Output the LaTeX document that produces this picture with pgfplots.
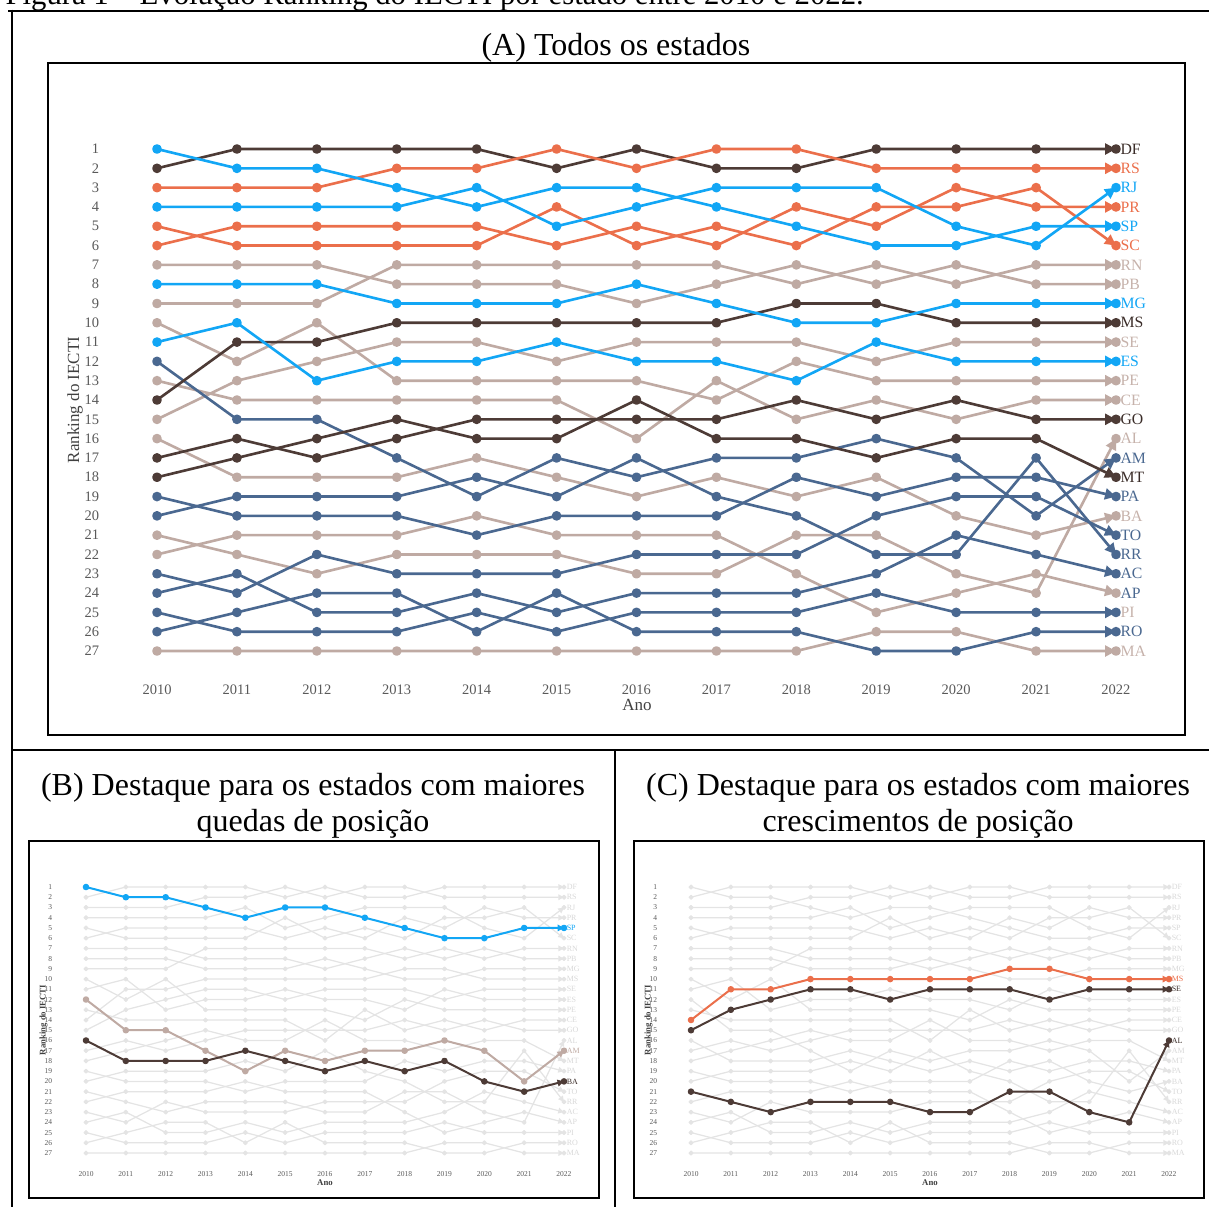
\documentclass[border=0pt]{standalone}
\usepackage{fontspec}
\setmainfont{Liberation Serif}
\usepackage{pgfplots}
\usepackage{pgfplotstable}
\pgfplotsset{compat=1.18}
\usetikzlibrary{arrows.meta}

\definecolor{dk}{HTML}{4D3B36}
\definecolor{orr}{HTML}{EB6F4B}
\definecolor{bl}{HTML}{12A6F5}
\definecolor{tp}{HTML}{BFAAA3}
\definecolor{tpl}{HTML}{C6B2AB}
\definecolor{sl}{HTML}{4A6890}
\definecolor{gl}{HTML}{E4E4E4}
\definecolor{gt}{HTML}{D8D8D8}
\definecolor{tk}{HTML}{595959}
\definecolor{lb}{HTML}{404040}
\definecolor{lbl}{HTML}{3A2C28}

\pgfplotstableread{
year DF RS RJ PR SP SC RN PB MG MS SE ES PE CE GO AL AM MT PA BA TO RR AC PI AP RO MA
2010 2 3 4 6 1 5 9 7 8 14 15 11 10 13 17 21 12 18 19 16 23 20 24 22 25 26 27
2011 1 3 4 5 2 6 9 7 8 11 13 10 12 14 16 22 15 17 20 18 24 19 23 21 26 25 27
2012 1 3 4 5 2 6 9 7 8 11 12 13 10 14 17 23 15 16 20 18 22 19 25 21 26 24 27
2013 1 2 4 5 3 6 7 8 9 10 11 12 13 14 16 22 17 15 20 18 23 19 25 21 26 24 27
2014 1 2 3 5 4 6 7 8 9 10 11 12 13 14 15 22 19 16 21 17 23 18 24 20 25 26 27
2015 2 1 5 6 3 4 7 8 9 10 12 11 13 14 15 22 17 16 20 18 23 19 25 21 26 24 27
2016 1 2 4 5 3 6 7 9 8 10 11 12 13 16 15 23 18 14 20 19 22 17 24 21 25 26 27
2017 2 1 3 6 4 5 7 8 9 10 11 12 14 13 15 23 17 16 20 18 22 19 24 21 25 26 27
2018 2 1 3 4 5 6 8 7 10 9 11 13 12 15 14 21 17 16 18 19 22 20 24 23 25 26 27
2019 1 2 3 5 6 4 7 8 10 9 12 11 13 14 15 21 16 17 19 18 20 22 23 25 24 27 26
2020 1 2 5 3 6 4 8 7 9 10 11 12 13 15 14 23 17 16 18 20 19 22 21 24 25 27 26
2021 1 2 6 4 5 3 7 8 9 10 11 12 13 14 15 24 20 16 18 21 19 17 22 23 25 26 27
2022 1 2 3 4 5 6 7 8 9 10 11 12 13 14 15 16 17 18 19 20 21 22 23 24 25 26 27
}\ranks

\pgfplotsset{
  rk/.style={scale only axis, anchor=south west,
    xmin=2010, xmax=2022, ymin=1, ymax=27, y dir=reverse,
    axis line style={draw=none}, major tick style={draw=none},
    xtick={2010,...,2022}, ytick={1,...,27}, clip=false,
    /pgf/number format/assume math mode=true,
    /pgf/number format/1000 sep={},
    tick label style={text=tk}},
  stA/.style={line width=1.05pt, mark=*, mark size=1.4pt, line join=round,
    -{Triangle[length=4.4pt,width=4.4pt]}},
  stG/.style={gl, line width=0.5pt, mark=*, mark size=0.75pt, line join=round,
    -{Triangle[length=2.3pt,width=2.3pt]}},
  stH/.style={line width=0.8pt, mark=*, mark size=0.9pt, line join=round,
    -{Triangle[length=2.6pt,width=2.6pt]}},
}
\newcommand{\serA}[2]{\addplot[stA,#1] table[x=year,y=#2]{\ranks};}
\newcommand{\serG}[1]{\addplot[stG] table[x=year,y=#1]{\ranks};}
\newcommand{\serH}[2]{\addplot[stH,#1] table[x=year,y=#2]{\ranks};}
\newcommand{\labA}[3]{\node[anchor=west,inner sep=0.6pt,xshift=1pt,text=#1,font=\fontsize{6.3}{7}\selectfont] at (axis cs:2022,#2) {#3};}
\newcommand{\labB}[3]{\node[anchor=west,inner sep=0.3pt,xshift=0.6pt,text=#1,font=\fontsize{3.2}{3.6}\selectfont] at (axis cs:2022,#2) {#3};}

\begin{document}
\begin{tikzpicture}
\useasboundingbox (0,0) rectangle (483.6pt,482.8pt);
% caption (cut at top as in the source)
\node[anchor=base west,inner sep=0,font=\fontsize{12.3}{14}\selectfont] at (2pt,481pt) {Figura 1 – Evolução Ranking do IECTI por estado entre 2010 e 2022.};
% table frame
\draw[line width=1.1pt] (3.2pt,478.4pt) -- (483.6pt,478.4pt);
\draw[line width=1.1pt] (4.8pt,478.9pt) -- (4.8pt,0pt);
\draw[line width=1.1pt] (4.8pt,182.8pt) -- (483.6pt,182.8pt);
\draw[line width=1.1pt] (246pt,182.8pt) -- (246pt,0pt);
% panel boxes
\draw[line width=1pt] (19.2pt,188.8pt) rectangle (474pt,457.6pt);
\draw[line width=1pt] (11.6pt,3.6pt) rectangle (239.6pt,146.4pt);
\draw[line width=1pt] (253.6pt,3.6pt) rectangle (481.6pt,146.4pt);
% titles
\node[anchor=base,inner sep=0,font=\fontsize{12.8}{14}\selectfont] at (246.4pt,460.6pt) {(A) Todos os estados};
\node[anchor=base,inner sep=0,font=\fontsize{12.8}{14}\selectfont] at (125.2pt,164.8pt) {(B) Destaque para os estados com maiores};
\node[anchor=base,inner sep=0,font=\fontsize{12.8}{14}\selectfont] at (125.2pt,150.4pt) {quedas de posição};
\node[anchor=base,inner sep=0,font=\fontsize{12.8}{14}\selectfont] at (367.2pt,164.8pt) {(C) Destaque para os estados com maiores};
\node[anchor=base,inner sep=0,font=\fontsize{12.8}{14}\selectfont] at (367.2pt,150.4pt) {crescimentos de posição};
% axis titles
\node[rotate=90,text=lb,font=\fontsize{6.8}{8}\selectfont] at (30pt,322.8pt) {Ranking do IECTI};
\node[text=lb,font=\fontsize{6.8}{8}\selectfont] at (254.8pt,200.8pt) {Ano};
\node[rotate=90,text=lb,font=\bfseries\fontsize{3.5}{4}\selectfont] at (17.4pt,74.8pt) {Ranking do IECTI};
\node[text=lb,font=\bfseries\fontsize{3.5}{4}\selectfont] at (130pt,9.6pt) {Ano};
\node[rotate=90,text=lb,font=\bfseries\fontsize{3.5}{4}\selectfont] at (259.4pt,74.8pt) {Ranking do IECTI};
\node[text=lb,font=\bfseries\fontsize{3.5}{4}\selectfont] at (372pt,9.6pt) {Ano};

% ---------------- panel A ----------------
\begin{axis}[rk, at={(62.8pt,222.4pt)}, width=383.6pt, height=200.8pt,
  tick label style={font=\fontsize{5.8}{6}\selectfont},
  yticklabel style={xshift=-19.6pt}, xticklabel style={yshift=-10pt}]
\serA{tp}{MA}\serA{tp}{PI}\serA{tp}{BA}\serA{tp}{AL}\serA{tp}{CE}\serA{tp}{PE}
\serA{tp}{SE}\serA{tp}{PB}\serA{tp}{RN}
\serA{sl}{RO}\serA{sl}{AP}\serA{sl}{AC}\serA{sl}{RR}\serA{sl}{TO}\serA{sl}{PA}\serA{sl}{AM}
\serA{dk}{MT}\serA{dk}{GO}\serA{dk}{MS}\serA{dk}{DF}
\serA{orr}{SC}\serA{orr}{PR}\serA{orr}{RS}
\serA{bl}{ES}\serA{bl}{MG}\serA{bl}{SP}\serA{bl}{RJ}
\labA{lbl}{1}{DF}\labA{orr}{2}{RS}\labA{bl}{3}{RJ}\labA{orr}{4}{PR}\labA{bl}{5}{SP}
\labA{orr}{6}{SC}\labA{tpl}{7}{RN}\labA{tpl}{8}{PB}\labA{bl}{9}{MG}\labA{lbl}{10}{MS}
\labA{tpl}{11}{SE}\labA{bl}{12}{ES}\labA{tpl}{13}{PE}\labA{tpl}{14}{CE}\labA{lbl}{15}{GO}
\labA{tpl}{16}{AL}\labA{sl}{17}{AM}\labA{lbl}{18}{MT}\labA{sl}{19}{PA}\labA{tpl}{20}{BA}
\labA{sl}{21}{TO}\labA{sl}{22}{RR}\labA{sl}{23}{AC}\labA{sl}{24}{AP}\labA{tpl}{25}{PI}
\labA{sl}{26}{RO}\labA{tpl}{27}{MA}
\end{axis}

% ---------------- panel B ----------------
\begin{axis}[rk, at={(34.4pt,21.6pt)}, width=191.2pt, height=106.4pt,
  tick label style={font=\fontsize{3}{3.5}\selectfont},
  yticklabel style={xshift=-10pt}, xticklabel style={yshift=-3.8pt}]
\serG{DF}\serG{RS}\serG{RJ}\serG{PR}\serG{SP}\serG{SC}\serG{RN}\serG{PB}\serG{MG}
\serG{MS}\serG{SE}\serG{ES}\serG{PE}\serG{CE}\serG{GO}\serG{AL}\serG{AM}\serG{MT}
\serG{PA}\serG{BA}\serG{TO}\serG{RR}\serG{AC}\serG{PI}\serG{AP}\serG{RO}\serG{MA}
\serH{tp}{AM}\serH{dk}{BA}\serH{bl}{SP}
\labB{gt}{1}{DF}\labB{gt}{2}{RS}\labB{gt}{3}{RJ}\labB{gt}{4}{PR}\labB{bl}{5}{SP}
\labB{gt}{6}{SC}\labB{gt}{7}{RN}\labB{gt}{8}{PB}\labB{gt}{9}{MG}\labB{gt}{10}{MS}
\labB{gt}{11}{SE}\labB{gt}{12}{ES}\labB{gt}{13}{PE}\labB{gt}{14}{CE}\labB{gt}{15}{GO}
\labB{gt}{16}{AL}\labB{tp}{17}{AM}\labB{gt}{18}{MT}\labB{gt}{19}{PA}\labB{lbl}{20}{BA}
\labB{gt}{21}{TO}\labB{gt}{22}{RR}\labB{gt}{23}{AC}\labB{gt}{24}{AP}\labB{gt}{25}{PI}
\labB{gt}{26}{RO}\labB{gt}{27}{MA}
\end{axis}

% ---------------- panel C ----------------
\begin{axis}[rk, at={(276.4pt,21.6pt)}, width=191.2pt, height=106.4pt,
  tick label style={font=\fontsize{3}{3.5}\selectfont},
  yticklabel style={xshift=-10pt}, xticklabel style={yshift=-3.8pt}]
\serG{DF}\serG{RS}\serG{RJ}\serG{PR}\serG{SP}\serG{SC}\serG{RN}\serG{PB}\serG{MG}
\serG{MS}\serG{SE}\serG{ES}\serG{PE}\serG{CE}\serG{GO}\serG{AL}\serG{AM}\serG{MT}
\serG{PA}\serG{BA}\serG{TO}\serG{RR}\serG{AC}\serG{PI}\serG{AP}\serG{RO}\serG{MA}
\serH{dk}{AL}\serH{dk}{SE}\serH{orr}{MS}
\labB{gt}{1}{DF}\labB{gt}{2}{RS}\labB{gt}{3}{RJ}\labB{gt}{4}{PR}\labB{gt}{5}{SP}
\labB{gt}{6}{SC}\labB{gt}{7}{RN}\labB{gt}{8}{PB}\labB{gt}{9}{MG}\labB{orr}{10}{MS}
\labB{lbl}{11}{SE}\labB{gt}{12}{ES}\labB{gt}{13}{PE}\labB{gt}{14}{CE}\labB{gt}{15}{GO}
\labB{lbl}{16}{AL}\labB{gt}{17}{AM}\labB{gt}{18}{MT}\labB{gt}{19}{PA}\labB{gt}{20}{BA}
\labB{gt}{21}{TO}\labB{gt}{22}{RR}\labB{gt}{23}{AC}\labB{gt}{24}{AP}\labB{gt}{25}{PI}
\labB{gt}{26}{RO}\labB{gt}{27}{MA}
\end{axis}
\end{tikzpicture}
\end{document}
